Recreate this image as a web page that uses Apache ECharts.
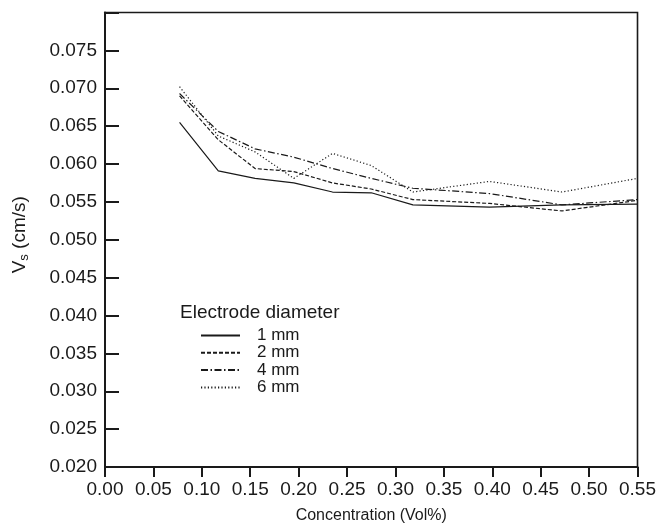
<!DOCTYPE html>
<html>
<head>
<meta charset="utf-8">
<script src="https://cdn.jsdelivr.net/npm/echarts@6/dist/echarts.min.js"></script>
<style>
html,body{margin:0;padding:0;background:#fff;}
#chart{width:659px;height:532px;}
</style>
</head>
<body>
<div id="chart"></div>
<script>
const concentration = [0.077, 0.117, 0.155, 0.195, 0.235, 0.275, 0.318, 0.397, 0.472, 0.55];
const vs1mm = [0.0655, 0.0591, 0.0581, 0.0575, 0.0563, 0.0562, 0.0546, 0.0543, 0.0546, 0.0547];
const vs2mm = [0.0690, 0.0632, 0.0594, 0.0590, 0.0575, 0.0567, 0.0553, 0.0548, 0.0538, 0.0552];
const vs4mm = [0.0693, 0.0643, 0.0620, 0.0609, 0.0594, 0.0581, 0.0568, 0.0561, 0.0546, 0.0553];
const vs6mm = [0.0702, 0.0637, 0.0616, 0.0581, 0.0614, 0.0598, 0.0563, 0.0577, 0.0563, 0.0581];
const seriesNames = ['1 mm', '2 mm', '4 mm', '6 mm'];
const legendTitle = 'Electrode diameter';
const xAxisName = 'Concentration (Vol%)';

const FONT = '"Liberation Sans", Arial, Helvetica, sans-serif';
const INK = '#1a1a1a';
function pairs(ys){ return concentration.map((x,i)=>[x, ys[i]]); }
const dashTypes = ['solid', [4,2], [7,2.5,1.5,2.5], [1.2,2.2]];
const allData = [vs1mm, vs2mm, vs4mm, vs6mm];

const chart = echarts.init(document.getElementById('chart'), null, {renderer:'canvas'});
chart.setOption({
  animation:false,
  backgroundColor:'#fff',
  grid:{left:105, right:16, top:12.5, bottom:65, show:true, borderColor:INK, borderWidth:1.6, backgroundColor:'transparent'},
  title:{text:legendTitle, left:175, top:298, textStyle:{fontFamily:FONT, fontSize:19, fontWeight:'normal', color:INK}},
  legend:{
    orient:'vertical', left:195, top:322, itemWidth:39, itemHeight:10, itemGap:0.3,
    itemStyle:{opacity:0},
    textStyle:{fontFamily:FONT, fontSize:17, lineHeight:16, color:INK, padding:[0,0,0,12]},
    data:seriesNames
  },
  xAxis:{
    type:'value', min:0, max:0.55, interval:0.05,
    name:xAxisName, nameLocation:'middle', nameGap:41,
    nameTextStyle:{fontFamily:FONT, fontSize:16, color:INK},
    axisLine:{show:true, lineStyle:{color:INK, width:2}},
    axisTick:{show:true, inside:false, length:10, lineStyle:{color:INK, width:2}},
    axisLabel:{fontFamily:FONT, fontSize:19, color:INK, margin:13, formatter:v=>v.toFixed(2)},
    splitLine:{show:false}
  },
  yAxis:{
    type:'value', min:0.02, max:0.08, interval:0.005,
    name:'{a|V}{s|s}{a| (cm/s)}', nameLocation:'middle', nameGap:74, nameRotate:90,
    nameTextStyle:{fontFamily:FONT, fontSize:19, color:INK, padding:[0,0,0,10],
      rich:{a:{fontFamily:FONT, fontSize:19, color:INK, lineHeight:22}, s:{fontFamily:FONT, fontSize:13, color:INK, lineHeight:11, verticalAlign:'bottom'}}},
    axisLine:{show:true, lineStyle:{color:INK, width:2}},
    axisTick:{show:true, inside:true, length:14, lineStyle:{color:INK, width:2}},
    axisLabel:{fontFamily:FONT, fontSize:19, color:INK, margin:8,
      formatter:v=> (Math.abs(v-0.08)<1e-9 ? '' : v.toFixed(3))},
    splitLine:{show:false}
  },
  series: seriesNames.map((n,i)=>({
    name:n, type:'line', data:pairs(allData[i]), symbol:'none', showSymbol:false,
    lineStyle:{color:INK, width:1.2, type:dashTypes[i]},
    itemStyle:{color:INK}
  }))
});
</script>
</body>
</html>
